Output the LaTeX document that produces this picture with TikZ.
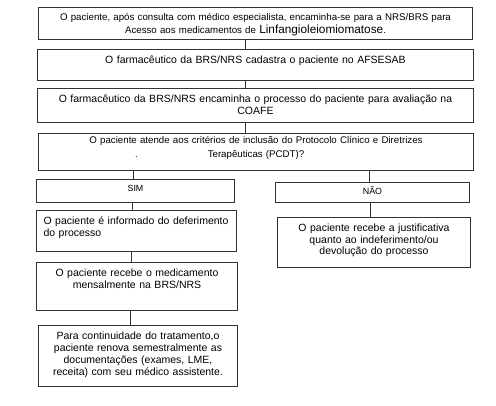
\documentclass[tikz,border=0pt]{standalone}
\usepackage{fontspec}
\setmainfont{Liberation Sans}
\usetikzlibrary{positioning, calc}

\begin{document}
\begin{tikzpicture}[x=1pt, y=-1pt,
    every node/.style={font=\fontsize{10.5}{11.5}\selectfont},
    box/.style={draw=black!80, line width=1pt, anchor=north west, align=center, inner xsep=4pt, inner ysep=0pt},
    link/.style={draw=black!80, line width=1pt}]
  \useasboundingbox (0,0) rectangle (496,406);

  % Main sequence
  \node[box, text width=426, text height=13.5, text depth=18.5, font=\fontsize{9.7}{13}\selectfont] (paciente) at (38,7)
    {O paciente, após consulta com médico especialista, encaminha-se para a NRS/BRS para\\
     Acesso aos medicamentos de {\fontsize{11.8}{13}\selectfont Linfangioleiomiomatose}.};
  \node[box, text width=428, text height=14.5, text depth=16.5] (cadastro) at (37,49)
    {O farmacêutico da BRS/NRS cadastra o paciente no AFSESAB};
  \node[box, text width=428, text height=14.5, text depth=19.5, font=\fontsize{10.5}{12}\selectfont] (coafe) at (37,88)
    {O farmacêutico da BRS/NRS encaminha o processo do paciente para avaliação na\\ COAFE};
  \node[box, text width=427, text height=10.5, text depth=26.5, font=\fontsize{9.7}{14}\selectfont] (pcdt) at (38,133)
    {O paciente atende aos critérios de inclusão do Protocolo Clínico e Diretrizes\\
     \leavevmode\llap{.\hspace{70pt}}Terapêuticas (PCDT)?};

  % Answers
  \node[box, text width=190, text height=12, text depth=11, font=\fontsize{8.9}{10}\selectfont] (sim) at (36,179) {SIM};
  \node[box, text width=186, text height=12, text depth=8, font=\fontsize{8.9}{10}\selectfont] (nao) at (275,182) {NÃO};

  % Yes branch
  \node[box, align=left, inner xsep=7pt, text width=186, text height=14.5, text depth=26.5] (deferido) at (36,210)
    {O paciente é informado do deferimento\\ do processo};
  \node[box, text width=193, text height=14.5, text depth=33.5] (mensal) at (36,262)
    {O paciente recebe o medicamento\\ mensalmente na BRS/NRS};
  \node[box, text width=191, text height=14.5, text depth=46.5, font=\fontsize{10.5}{11.7}\selectfont] (renova) at (38,325)
    {Para continuidade do tratamento,o\\ paciente renova semestralmente as\\ documentações (exames, LME,\\ receita) com seu médico assistente.};

  % No branch
  \node[box, text width=185, text height=14.5, text depth=35.5] (indeferido) at (277,217)
    {O paciente recebe a justificativa\\ quanto ao indeferimento/ou\\ devolução do processo};

  % Connectors
  \draw[link] ([xshift=-10pt]paciente.south) -- ([xshift=-10pt]paciente.south |- cadastro.north);
  \draw[link] ([xshift=-10pt]cadastro.south) -- ([xshift=-10pt]cadastro.south |- coafe.north);
  \draw[link] ([xshift=-10pt]coafe.south) -- ([xshift=-10pt]coafe.south |- pcdt.north);
  \draw[link] ([xshift=-2pt]sim.north |- pcdt.south) -- ([xshift=-2pt]sim.north);
  \draw[link] ([xshift=-3pt]nao.north |- pcdt.south) -- ([xshift=-3pt]nao.north);
  \draw[link] ([xshift=-4pt]deferido.north |- sim.south) -- ([xshift=-4pt]deferido.north);
  \draw[link] ([xshift=-5.5pt]mensal.north |- deferido.south) -- ([xshift=-5.5pt]mensal.north);
  \draw[link] ([xshift=-7.5pt]renova.north |- mensal.south) -- ([xshift=-7.5pt]renova.north);
  \draw[link] ([xshift=-3.5pt]indeferido.north |- nao.south) -- ([xshift=-3.5pt]indeferido.north);
\end{tikzpicture}
\end{document}
